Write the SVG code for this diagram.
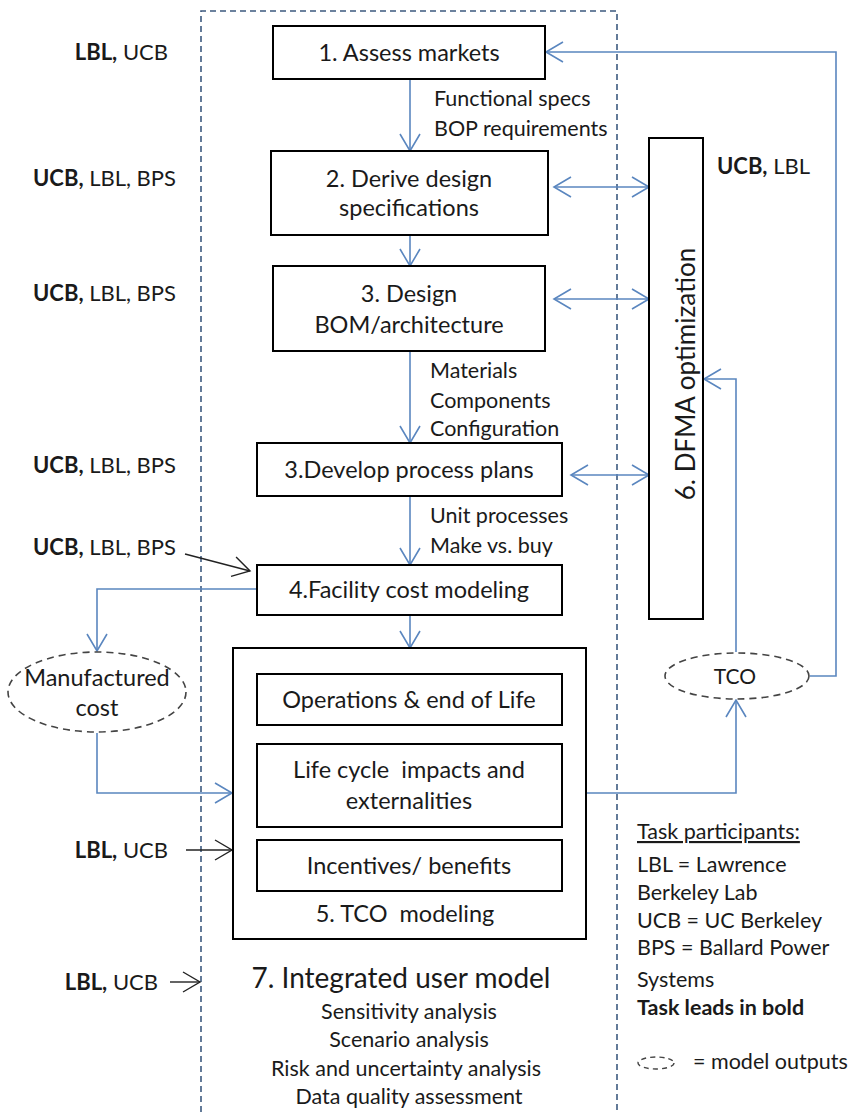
<svg xmlns="http://www.w3.org/2000/svg" width="848" height="1112" viewBox="0 0 848 1112">
<style>
text{font-family:Lato,"Liberation Sans",sans-serif;fill:#1a1a1a;white-space:pre}
.box{fill:#fff;stroke:#000;stroke-width:2}
.t{font-size:23.5px;text-anchor:middle}
.s{font-size:21.5px}
.lab{font-size:22px;text-anchor:end}
.b{font-weight:bold}
.c{fill:none;stroke:#5a86bf;stroke-width:1.6}
.k{fill:none;stroke:#222;stroke-width:1.4}
.ell{fill:#fff;stroke:#444;stroke-width:1.6;stroke-dasharray:7 5}
</style>
<defs>
<marker id="a" markerUnits="userSpaceOnUse" markerWidth="22" markerHeight="24" refX="18" refY="11" orient="auto-start-reverse" viewBox="0 0 22 22">
<path d="M1,1 L18,11 L1,21" fill="none" stroke="#5a86bf" stroke-width="1.6"/>
</marker>
<marker id="k" markerUnits="userSpaceOnUse" markerWidth="22" markerHeight="24" refX="18" refY="11" orient="auto" viewBox="0 0 22 22">
<path d="M1,1 L18,11 L1,21" fill="none" stroke="#222" stroke-width="1.4"/>
</marker>
</defs>
<rect width="848" height="1112" fill="#fff"/>
<g id="frame">
<path d="M201,1112 V11 H617 V1112" fill="none" stroke="#3d5a7f" stroke-width="1.6" stroke-dasharray="6 4"/>
</g>
<g id="connectors">
<path class="c" d="M410,79 V151" marker-end="url(#a)"/>
<path class="c" d="M410,235 V266" marker-end="url(#a)"/>
<path class="c" d="M410,351 V443" marker-end="url(#a)"/>
<path class="c" d="M410,496 V565" marker-end="url(#a)"/>
<path class="c" d="M410,615 V648" marker-end="url(#a)"/>
<path class="c" d="M554,187 H649" marker-start="url(#a)" marker-end="url(#a)"/>
<path class="c" d="M554,299 H649" marker-start="url(#a)" marker-end="url(#a)"/>
<path class="c" d="M571,475 H649" marker-start="url(#a)" marker-end="url(#a)"/>
<path class="c" d="M810,676 H836 V52 H546" marker-end="url(#a)"/>
<path class="c" d="M736,652 V379 H704" marker-end="url(#a)"/>
<path class="c" d="M586,793 H736 V700" marker-end="url(#a)"/>
<path class="c" d="M257,589 H97 V651" marker-end="url(#a)"/>
<path class="c" d="M97,733 V793 H232" marker-end="url(#a)"/>
<path class="k" d="M185,554 L250,571" marker-end="url(#k)"/>
<path class="k" d="M186,850 L232,850" marker-end="url(#k)"/>
<path class="k" d="M170,982 L200,982" marker-end="url(#k)"/>
</g>
<g id="n1"><rect class="box" x="273" y="26" width="272" height="53"/><text class="t" x="409" y="61">1. Assess markets</text></g>
<g id="n2"><rect class="box" x="271" y="151" width="277" height="84"/><text class="t" x="409" y="187">2. Derive design</text><text class="t" x="409" y="216">specifications</text></g>
<g id="n3"><rect class="box" x="273" y="266" width="272" height="85"/><text class="t" x="409" y="302">3. Design</text><text class="t" x="409" y="333">BOM/architecture</text></g>
<g id="n3b"><rect class="box" x="257" y="443" width="305" height="53"/><text class="t" x="409" y="478">3.Develop process plans</text></g>
<g id="n4"><rect class="box" x="257" y="565" width="305" height="50"/><text class="t" x="409" y="598">4.Facility cost modeling</text></g>
<g id="n5"><rect class="box" x="233" y="648" width="353" height="291"/><text class="t" x="405" y="922">5. TCO  modeling</text></g>
<g id="n5a"><rect class="box" x="257" y="674" width="305" height="51"/><text class="t" x="409" y="708">Operations &amp; end of Life</text></g>
<g id="n5b"><rect class="box" x="257" y="744" width="305" height="83"/><text class="t" x="409" y="778">Life cycle  impacts and</text><text class="t" x="409" y="809">externalities</text></g>
<g id="n5c"><rect class="box" x="257" y="840" width="305" height="51"/><text class="t" x="409" y="874">Incentives/ benefits</text></g>
<g id="n6"><rect class="box" x="649" y="138" width="54" height="481"/><text class="t" transform="translate(695,374) rotate(-90)" x="0" y="0" style="font-size:26px">6. DFMA optimization</text></g>
<g id="n7"><text class="t" x="401" y="988" style="font-size:28px">7. Integrated user model</text>
<text class="t" x="409" y="1019" style="font-size:21.5px">Sensitivity analysis</text>
<text class="t" x="409" y="1047" style="font-size:21.5px">Scenario analysis</text>
<text class="t" x="406" y="1076" style="font-size:21.5px">Risk and uncertainty analysis</text>
<text class="t" x="409" y="1104" style="font-size:21.5px">Data quality assessment</text></g>
<g id="mc"><ellipse class="ell" cx="97" cy="692" rx="89" ry="40"/><text class="t" x="97" y="686">Manufactured</text><text class="t" x="97" y="716">cost</text></g>
<g id="tco"><ellipse class="ell" cx="737" cy="676" rx="72" ry="23"/><text class="t" x="735" y="684" style="font-size:21px">TCO</text></g>
<g id="edge-labels">
<text class="s" x="434" y="106">Functional specs</text>
<text class="s" x="434" y="136">BOP requirements</text>
<text class="s" x="430" y="378">Materials</text>
<text class="s" x="430" y="408">Components</text>
<text class="s" x="430" y="436">Configuration</text>
<text class="s" x="430" y="523">Unit processes</text>
<text class="s" x="430" y="553">Make vs. buy</text>
</g>
<g id="participants">
<text class="lab" x="168" y="60"><tspan class="b">LBL,</tspan> UCB</text>
<text class="lab" x="176" y="186"><tspan class="b">UCB,</tspan> LBL, BPS</text>
<text class="lab" x="176" y="301"><tspan class="b">UCB,</tspan> LBL, BPS</text>
<text class="lab" x="176" y="473"><tspan class="b">UCB,</tspan> LBL, BPS</text>
<text class="lab" x="176" y="555"><tspan class="b">UCB,</tspan> LBL, BPS</text>
<text class="lab" x="168" y="858"><tspan class="b">LBL,</tspan> UCB</text>
<text class="lab" x="158" y="990"><tspan class="b">LBL,</tspan> UCB</text>
<text class="s" x="717" y="174" style="font-size:22px"><tspan class="b">UCB,</tspan> LBL</text>
</g>
<g id="legend">
<text class="s" x="637" y="839" text-decoration="underline">Task participants:</text>
<text class="s" x="637" y="872">LBL = Lawrence</text>
<text class="s" x="637" y="900">Berkeley Lab</text>
<text class="s" x="637" y="928">UCB = UC Berkeley</text>
<text class="s" x="637" y="955">BPS = Ballard Power</text>
<text class="s" x="637" y="987">Systems</text>
<text class="s b" x="637" y="1015">Task leads in bold</text>
<ellipse class="ell" cx="656" cy="1063" rx="18" ry="6" style="stroke-width:1.4;stroke-dasharray:5 4"/>
<text class="s" x="693" y="1069">= model outputs</text>
</g>
</svg>
